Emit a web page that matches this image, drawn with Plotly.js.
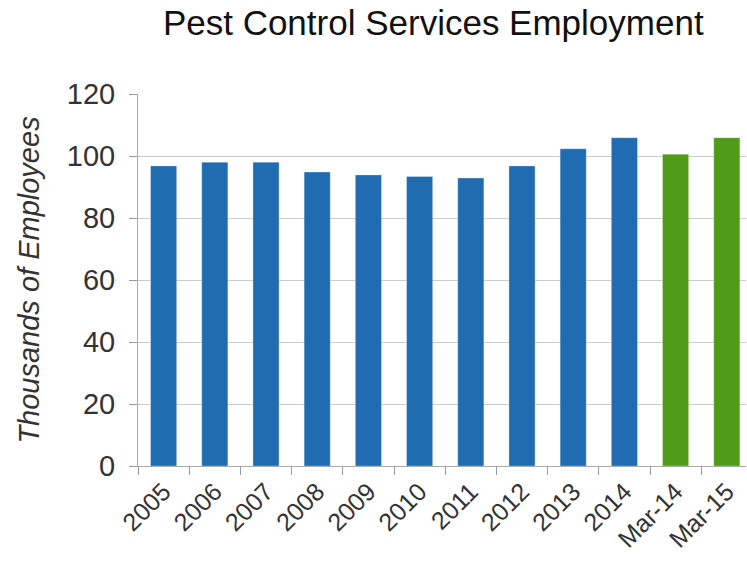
<!DOCTYPE html>
<html><head><meta charset="utf-8">
<script src="https://cdn.plot.ly/plotly-3.0.1.min.js"></script>
<style>html,body{margin:0;padding:0;background:#fff}#c{width:747px;height:564px}</style>
</head><body><div id="c"></div>
<script>
const categories = ["2005","2006","2007","2008","2009","2010","2011","2012","2013","2014","Mar-14","Mar-15"];
const employees = [96.8, 98.0, 98.0, 94.8, 93.9, 93.4, 92.9, 96.8, 102.3, 105.9, 100.6, 105.9];
const barColors = ["#1f6cb0","#1f6cb0","#1f6cb0","#1f6cb0","#1f6cb0","#1f6cb0","#1f6cb0","#1f6cb0","#1f6cb0","#1f6cb0","#4f9a17","#4f9a17"];
const yTicks = [0,20,40,60,80,100,120];

Plotly.newPlot('c', [{
  type: 'bar',
  x: categories,
  y: employees,
  marker: {color: barColors, line: {color: 'rgba(255,255,255,0.3)', width: 1}},
  hoverinfo: 'x+y'
}], {
  width: 747, height: 564,
  margin: {l: 138, r: 1, t: 94, b: 98},
  paper_bgcolor: '#fff', plot_bgcolor: '#fff',
  bargap: 0.49,
  title: {text: 'Pest Control Services Employment', x: 0.58, xanchor: 'center', y: 0.96, yanchor: 'middle',
          font: {family: 'Liberation Sans, Arial, sans-serif', size: 35, color: '#111'}},
  font: {family: 'Liberation Sans, Arial, sans-serif', color: '#333'},
  xaxis: {
    type: 'category', tickangle: -45, tickson: 'boundaries',
    range: [-0.5, 11.375],
    ticks: 'outside', ticklen: 8, tickcolor: '#999',
    showline: true, linecolor: '#aaa', linewidth: 1,
    showgrid: false,
    tickfont: {size: 25, color: '#333'}
  },
  yaxis: {
    range: [0, 120], tickvals: yTicks, ticktext: yTicks.map(String),
    ticks: 'outside', ticklen: 8, tickcolor: '#999', ticklabelstandoff: 8,
    showline: true, linecolor: '#aaa', linewidth: 1,
    showgrid: true, gridcolor: '#cccccc', gridwidth: 1,
    zeroline: false,
    tickfont: {size: 29, color: '#333'},
    title: {text: '<i>Thousands of Employees</i>', standoff: 18, font: {size: 29, color: '#333'}}
  },
  showlegend: false
}, {displayModeBar: false});
</script></body></html>
